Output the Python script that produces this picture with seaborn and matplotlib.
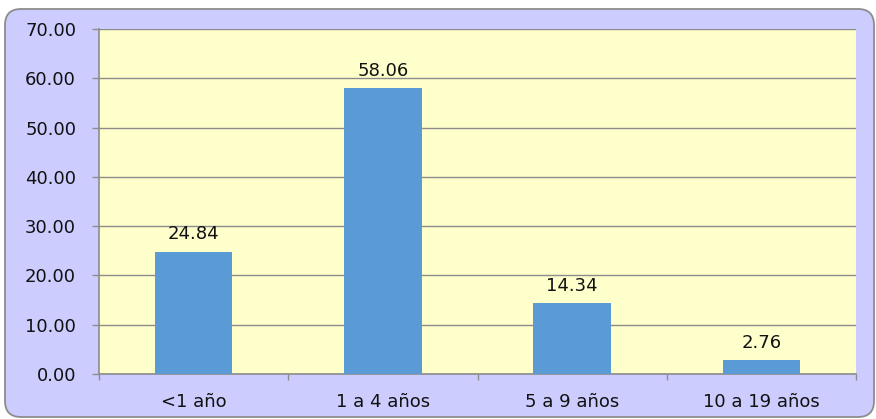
import matplotlib
matplotlib.use("Agg")
import matplotlib.pyplot as plt
import seaborn as sns
import pandas as pd
from matplotlib.patches import FancyBboxPatch
from matplotlib.transforms import IdentityTransform

categories = ["<1 año", "1 a 4 años", "5 a 9 años", "10 a 19 años"]
values = [24.84, 58.06, 14.34, 2.76]
y_ticks = [0, 10, 20, 30, 40, 50, 60, 70]

df = pd.DataFrame({"cat": categories, "val": values})

sns.set_theme(style="white")
plt.rcParams['font.family'] = ['DejaVu Sans']

fig = plt.figure(figsize=(8.76, 4.19), dpi=100, facecolor="white")

box = FancyBboxPatch((5, 2), 869, 408, boxstyle="round,pad=0,rounding_size=16",
                     transform=IdentityTransform(), facecolor="#CCCCFF",
                     edgecolor="#8C8C8C", linewidth=1.3, zorder=-5)
fig.patches.append(box)

ax = fig.add_axes([99/876, 1-374/419, (856-99)/876, (374-29)/419])
ax.set_zorder(2)
ax.set_facecolor("#FFFFCC")

sns.barplot(data=df, x="cat", y="val", color="#5B9BD5", width=0.41,
            saturation=1, linewidth=0, ax=ax, zorder=3)

ax.set_ylim(0, 70)
ax.set_xlim(-0.5, 3.5)
ax.set_yticks(y_ticks)
ax.set_yticklabels([f"{v:.2f}" for v in y_ticks], fontsize=13, color="#111111")
ax.yaxis.grid(True, color="#8C8C8C", linewidth=1, zorder=0)
ax.set_axisbelow(True)
ax.tick_params(axis="y", length=5, width=1, color="#8C8C8C", pad=11.5, left=True)

ax.set_xticks(range(len(categories)))
ax.set_xticklabels(categories, fontsize=13, color="#111111")
ax.tick_params(axis="x", which="major", length=0, pad=13.5)
ax.set_xticks([-0.5, 0.5, 1.5, 2.5, 3.5], minor=True)
ax.tick_params(axis="x", which="minor", length=4.5, width=1, color="#8C8C8C", bottom=True)
ax.set_xlabel("")
ax.set_ylabel("")

for s in ["top", "right"]:
    ax.spines[s].set_visible(False)
for s in ["left", "bottom"]:
    ax.spines[s].set_color("#8C8C8C")
    ax.spines[s].set_linewidth(1.2)

for c in ax.containers:
    ax.bar_label(c, labels=[f"{v:.2f}" for v in values], padding=6,
                 fontsize=13, color="#111111")

fig.savefig("out.png", dpi=100, facecolor="white")
